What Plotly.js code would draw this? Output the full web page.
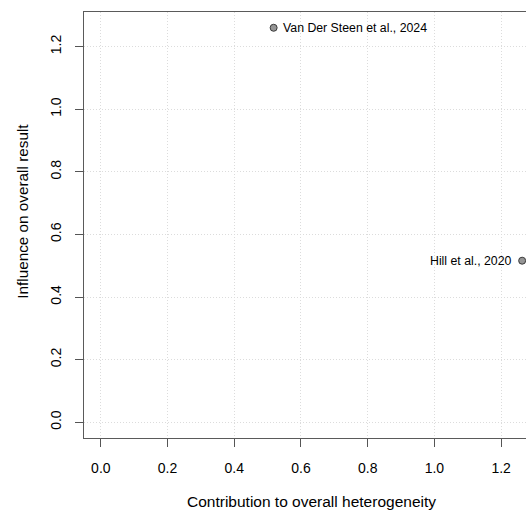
<!DOCTYPE html>
<html>
<head>
<meta charset="utf-8">
<script src="https://cdn.plot.ly/plotly-3.0.1.min.js"></script>
<style>html,body{margin:0;padding:0;overflow:hidden;background:#fff;}</style>
</head>
<body>
<div id="chart"></div>
<script>
// Baujat plot data
const studies = ["Van Der Steen et al., 2024", "Hill et al., 2020"];
const heterogeneity = [0.518, 1.263];   // x: contribution to overall heterogeneity
const influence = [1.26, 0.516];        // y: influence on overall result
const labelSides = ["right", "left"];
const tickVals = [0, 0.2, 0.4, 0.6, 0.8, 1.0, 1.2];
const tickText = ["0.0", "0.2", "0.4", "0.6", "0.8", "1.0", "1.2"];
const xTitle = "Contribution to overall heterogeneity";
const yTitle = "Influence on overall result";

// R-style axis limits: data range extended by 4% each side
const xmin = 0, xmax = Math.max(...heterogeneity);
const ymin = 0, ymax = Math.max(...influence);
const xr = [xmin - 0.04 * (xmax - xmin), xmax + 0.04 * (xmax - xmin)];
const yr = [ymin - 0.04 * (ymax - ymin), ymax + 0.04 * (ymax - ymin)];

const font = "Liberation Sans, Arial, sans-serif";

const trace = {
  type: "scatter",
  mode: "markers",
  x: heterogeneity,
  y: influence,
  marker: {size: 7, color: "#959595", line: {color: "#3a3a3a", width: 1}},
  cliponaxis: false,
  hoverinfo: "skip",
  showlegend: false
};

const annotations = studies.map((s, i) => ({
  x: heterogeneity[i],
  y: influence[i],
  xref: "x",
  yref: "y",
  text: s,
  showarrow: false,
  xanchor: labelSides[i] === "right" ? "left" : "right",
  yanchor: "middle",
  xshift: labelSides[i] === "right" ? 7 : -8,
  font: {family: font, size: 12.3, color: "#000"}
}));

// y-axis title (placed as in the reference, slightly above the axis centre)
annotations.push({
  xref: "paper", yref: "paper",
  x: -0.1345, y: 0.533,
  xanchor: "center", yanchor: "middle",
  text: yTitle,
  textangle: -90,
  showarrow: false,
  font: {family: font, size: 15.3, color: "#000"}
});

const axisCommon = {
  tickvals: tickVals,
  ticktext: tickText,
  ticks: "outside",
  ticklen: 8,
  tickwidth: 1,
  tickcolor: "#555",
  tickfont: {family: font, size: 14, color: "#000"},
  showline: true,
  linecolor: "#5a5a5a",
  linewidth: 1.4,
  mirror: true,
  showgrid: true,
  gridcolor: "#dcdcdc",
  gridwidth: 1,
  griddash: "1px,2px",
  zeroline: false,
  fixedrange: true,
  automargin: false
};

const layout = {
  width: 539,
  height: 510,
  margin: {l: 83.5, r: 0, t: 11.5, b: 71.5},
  paper_bgcolor: "#fff",
  plot_bgcolor: "#fff",
  font: {family: font, size: 14, color: "#000"},
  annotations: annotations,
  xaxis: Object.assign({}, axisCommon, {
    range: xr,
    ticklabelstandoff: 9,
    title: {text: xTitle, font: {family: font, size: 15.5, color: "#000"}, standoff: 22}
  }),
  yaxis: Object.assign({}, axisCommon, {
    range: yr,
    tickangle: -90,
    ticklabelstandoff: 8
  })
};

Plotly.newPlot("chart", [trace], layout, {displayModeBar: false, staticPlot: true});
</script>
</body>
</html>
